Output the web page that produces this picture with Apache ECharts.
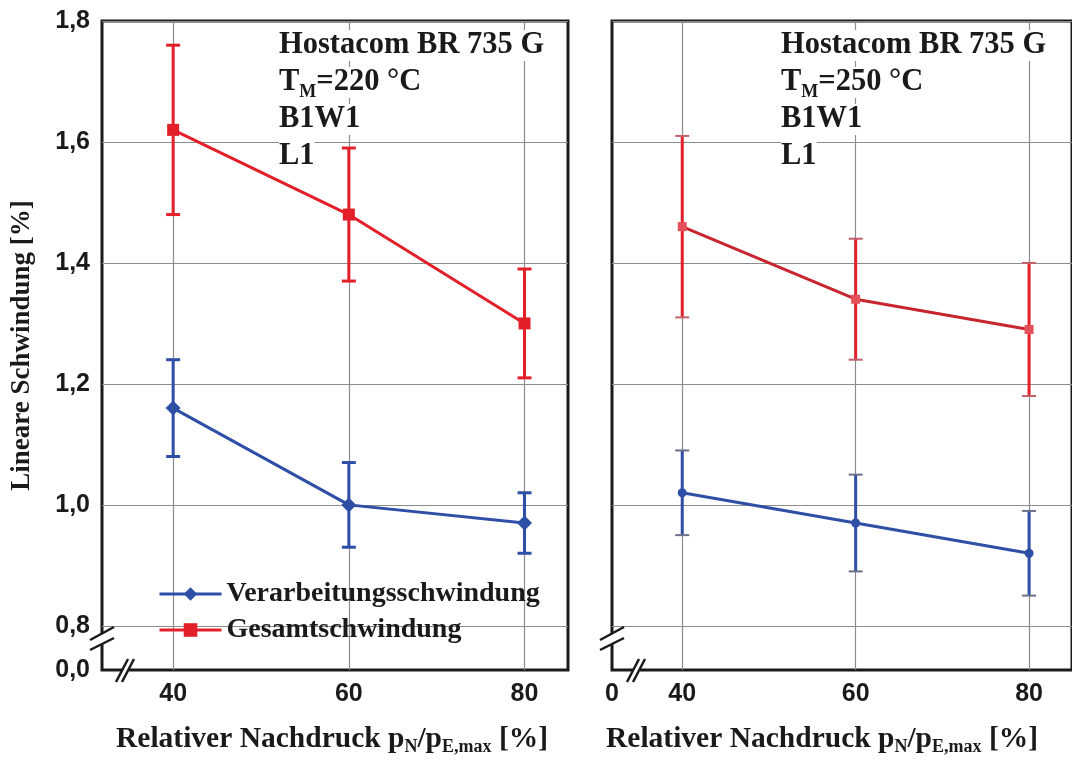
<!DOCTYPE html>
<html>
<head>
<meta charset="utf-8">
<script src="https://cdn.jsdelivr.net/npm/echarts@6/dist/echarts.min.js"></script>
<style>
  html, body { margin: 0; padding: 0; background: #fff; }
  #chart { width: 1072px; height: 765px; }
</style>
</head>
<body>
<div id="chart"></div>
<script>
// Nachdruck in % (x-Achse)
const druck = [40, 60, 80];

// T_M = 220 °C
const verarb220 = [1.16, 1.00, 0.97];
const verarb220Err = [[1.08, 1.24], [0.93, 1.07], [0.92, 1.02]];
const gesamt220 = [1.62, 1.48, 1.30];
const gesamt220Err = [[1.48, 1.76], [1.37, 1.59], [1.21, 1.39]];

// T_M = 250 °C
const verarb250 = [1.02, 0.97, 0.92];
const verarb250Err = [[0.95, 1.09], [0.89, 1.05], [0.85, 0.99]];
const gesamt250 = [1.46, 1.34, 1.29];
const gesamt250Err = [[1.31, 1.61], [1.24, 1.44], [1.18, 1.40]];

// Achsen
const yTicks = [0.8, 1.0, 1.2, 1.4, 1.6, 1.8];
const yBreak = 0.727;   // unteres Ende (Achsenbruch, beschriftet mit 0,0)
const xBreak = 31.9;    // linkes Ende (Achsenbruch, rechts beschriftet mit 0)

const RED = '#e3202a';
const BLUE = '#2f4fa6';
const serif = 'Liberation Serif';
const sans = 'Liberation Sans';

const chart = echarts.init(document.getElementById('chart'));

function toPairs(xs, ys) {
  return xs.map((x, i) => [x, ys[i]]);
}
function errData(xs, errs) {
  return xs.map((x, i) => [x, errs[i][0], errs[i][1]]);
}
// Fehlerbalken als custom series
function errSeries(idx, errs, color, capW, capColor, capWidth) {
  return {
    type: 'custom',
    xAxisIndex: idx,
    yAxisIndex: idx,
    silent: true,
    z: 3,
    data: errData(druck, errs),
    renderItem: function (params, api) {
      const lo = api.coord([api.value(0), api.value(1)]);
      const hi = api.coord([api.value(0), api.value(2)]);
      return {
        type: 'group',
        children: [
          { type: 'line', shape: { x1: lo[0], y1: lo[1], x2: hi[0], y2: hi[1] },
            style: { stroke: color, lineWidth: 3 } },
          { type: 'line', shape: { x1: lo[0] - capW, y1: lo[1], x2: lo[0] + capW, y2: lo[1] },
            style: { stroke: capColor, lineWidth: capWidth } },
          { type: 'line', shape: { x1: hi[0] - capW, y1: hi[1], x2: hi[0] + capW, y2: hi[1] },
            style: { stroke: capColor, lineWidth: capWidth } }
        ]
      };
    }
  };
}

function xAxisCfg(idx, labels) {
  return {
    type: 'value',
    gridIndex: idx,
    min: xBreak,
    max: 84.95,
    axisLine: { show: false },
    axisTick: { show: false, customValues: druck },
    axisLabel: {
      customValues: labels,
      margin: 12,
      fontFamily: sans, fontWeight: 'bold', fontSize: 25, color: '#1a1a1a',
      formatter: v => (v < 35 ? '0' : String(v))
    },
    splitLine: { show: true, lineStyle: { color: '#8c8c8c', width: 1.2 } }
  };
}
function yAxisCfg(idx, showLabels) {
  const ax = {
    type: 'value',
    gridIndex: idx,
    min: yBreak,
    max: 1.8,
    axisLine: { show: false },
    axisTick: { show: false, customValues: yTicks },
    axisLabel: {
      show: showLabels,
      customValues: [yBreak].concat(yTicks),
      margin: 12,
      fontFamily: sans, fontWeight: 'bold', fontSize: 25, color: '#1a1a1a',
      formatter: v => (v < 0.75 ? '0,0' : v.toFixed(1).replace('.', ','))
    },
    splitLine: { show: true, lineStyle: { color: '#8c8c8c', width: 1.2 } }
  };
  if (showLabels) {
    ax.name = 'Lineare Schwindung [%]';
    ax.nameLocation = 'middle';
    ax.nameGap = 66;
    ax.nameTextStyle = { fontFamily: serif, fontWeight: 'bold', fontSize: 27, color: '#1a1a1a' };
  }
  return ax;
}

const infoRich = {
  a: { fontFamily: serif, fontWeight: 'bold', fontSize: 30.5, color: '#1a1a1a',
       backgroundColor: '#fff', lineHeight: 37 },
  s: { fontFamily: serif, fontWeight: 'bold', fontSize: 18, color: '#1a1a1a',
       backgroundColor: '#fff', lineHeight: 37, verticalAlign: 'bottom', padding: [18, 0, 0, 0] }
};
function infoText(temp) {
  return '{a|Hostacom BR 735 G}\n{a|T}{s|M}{a|=' + temp + ' °C}\n{a|B1W1}\n{a|L1}';
}

const nameRich = {
  a: { fontFamily: serif, fontWeight: 'bold', fontSize: 29.5, fill: '#1a1a1a' },
  s: { fontFamily: serif, fontWeight: 'bold', fontSize: 18, fill: '#1a1a1a', padding: [16, 0, 0, 0] }
};
const xName = '{a|Relativer Nachdruck p}{s|N}{a|/p}{s|E,max}{a| [%]}';

// Achsenbruch-Zeichen (//)
function breakMarks(ax, ay, vertical) {
  const els = [];
  if (vertical) {
    els.push({ type: 'rect', shape: { x: ax - 4, y: ay - 6, width: 8, height: 10 }, style: { fill: '#fff' }, z: 100 });
    els.push({ type: 'line', shape: { x1: ax - 12, y1: ay, x2: ax + 12, y2: ay - 13 }, style: { stroke: '#1a1a1a', lineWidth: 2.5 }, z: 101 });
    els.push({ type: 'line', shape: { x1: ax - 12, y1: ay + 10, x2: ax + 12, y2: ay - 2 }, style: { stroke: '#1a1a1a', lineWidth: 2.5 }, z: 101 });
  } else {
    els.push({ type: 'rect', shape: { x: ax - 3, y: ay - 4, width: 7, height: 8 }, style: { fill: '#fff' }, z: 100 });
    els.push({ type: 'line', shape: { x1: ax - 9, y1: ay + 12, x2: ax + 3, y2: ay - 11 }, style: { stroke: '#1a1a1a', lineWidth: 2.5 }, z: 101 });
    els.push({ type: 'line', shape: { x1: ax - 3, y1: ay + 12, x2: ax + 9, y2: ay - 11 }, style: { stroke: '#1a1a1a', lineWidth: 2.5 }, z: 101 });
  }
  return els;
}

chart.setOption({
  backgroundColor: '#fff',
  animation: false,
  grid: [
    { left: 102, top: 21, width: 466, height: 649, show: true, borderColor: '#1a1a1a', borderWidth: 3, backgroundColor: 'transparent' },
    { left: 612, top: 21, width: 467, height: 649, show: true, borderColor: '#1a1a1a', borderWidth: 3, backgroundColor: 'transparent' }
  ],
  xAxis: [xAxisCfg(0, druck), xAxisCfg(1, [xBreak].concat(druck))],
  yAxis: [yAxisCfg(0, true), yAxisCfg(1, false)],
  title: [
    { left: 279, top: 27, padding: 0, text: infoText(220), textStyle: { rich: infoRich } },
    { left: 781, top: 27, padding: 0, text: infoText(250), textStyle: { rich: infoRich } }
  ],
  legend: {
    orient: 'vertical',
    left: 153,
    top: 575,
    itemWidth: 62,
    itemHeight: 17,
    itemGap: 8,
    lineStyle: { width: 3 },
    data: ['Verarbeitungsschwindung', 'Gesamtschwindung'],
    textStyle: { fontFamily: serif, fontWeight: 'bold', fontSize: 28, color: '#1a1a1a' }
  },
  graphic: [
    { type: 'text', left: 116, top: 724, style: { text: xName, rich: nameRich } },
    { type: 'text', left: 606, top: 724, style: { text: xName, rich: nameRich } }
  ].concat(
    breakMarks(102, 640, true),
    breakMarks(125, 670, false),
    breakMarks(612, 640, true),
    breakMarks(636, 670, false)
  ),
  series: [
    errSeries(0, verarb220Err, BLUE, 7, BLUE, 3),
    errSeries(0, gesamt220Err, RED, 7, RED, 3),
    errSeries(1, verarb250Err, BLUE, 7, '#6a6f8a', 2),
    errSeries(1, gesamt250Err, RED, 7, '#c0606a', 2),
    {
      name: 'Verarbeitungsschwindung', type: 'line', xAxisIndex: 0, yAxisIndex: 0,
      data: toPairs(druck, verarb220), z: 5,
      symbol: 'diamond', symbolSize: 15,
      lineStyle: { color: BLUE, width: 3 }, itemStyle: { color: BLUE }
    },
    {
      name: 'Gesamtschwindung', type: 'line', xAxisIndex: 0, yAxisIndex: 0,
      data: toPairs(druck, gesamt220), z: 5,
      symbol: 'rect', symbolSize: 12,
      lineStyle: { color: RED, width: 3 }, itemStyle: { color: RED }
    },
    {
      name: 'Verarbeitungsschwindung', type: 'line', xAxisIndex: 1, yAxisIndex: 1,
      data: toPairs(druck, verarb250), z: 5,
      symbol: 'circle', symbolSize: 9,
      lineStyle: { color: BLUE, width: 3 }, itemStyle: { color: BLUE }
    },
    {
      name: 'Gesamtschwindung', type: 'line', xAxisIndex: 1, yAxisIndex: 1,
      data: toPairs(druck, gesamt250), z: 5,
      symbol: 'rect', symbolSize: 9,
      lineStyle: { color: '#c8262e', width: 3 }, itemStyle: { color: '#e4505a' }
    }
  ]
});
</script>
</body>
</html>
